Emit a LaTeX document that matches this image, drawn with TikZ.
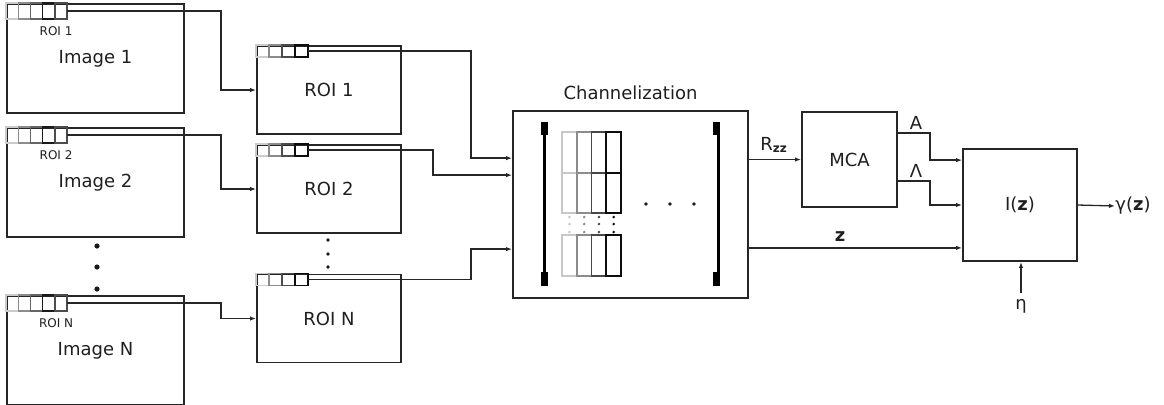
\documentclass[tikz,border=0pt]{standalone}
\usepackage{fontspec}
\setmainfont{DejaVu Sans}
\usetikzlibrary{calc,arrows.meta}
\begin{document}
\begin{tikzpicture}[x=0.5pt,y=-0.5pt,
  box/.style={draw=black!85, line width=0.9pt, inner sep=0pt,
    font=\fontsize{9}{11}\selectfont, text=black!88},
  imgbox/.style={box, minimum width=88.5pt, minimum height=54.5pt},
  roibox/.style={box, minimum width=72pt, minimum height=44pt},
  conn/.style={draw=black!85, line width=0.65pt, -{Latex[length=3pt,width=2.2pt]}},
  lbl/.style={inner sep=0pt, font=\fontsize{9}{11}\selectfont, text=black!88},
  smalllbl/.style={inner sep=0pt, font=\fontsize{6}{7}\selectfont, text=black!88},
  strip5/.pic={
    \foreach \i/\c in {0/20,1/45,2/60,3/90,4/70}
      \draw[line width=0.75pt, draw=black!\c] (\i*12.2,0) rectangle ++(12.2,16);
    \coordinate (-end) at (61,8);
  },
  strip4/.pic={
    \foreach \i/\c in {0/20,1/45,2/70,3/95}
      \draw[line width=0.75pt, draw=black!\c] (\i*13,0) rectangle ++(13,12);
    \coordinate (-end) at (52,6);
  }
]
\useasboundingbox (0,0) rectangle (1164,404);
\clip (0,0) rectangle (1164,404);

% source images
\node[imgbox] (img1) at (95.5,58.5) {Image 1};
\node[imgbox] (img2) at (95.5,182.5) {Image 2};
\node[imgbox] (imgN) at (95.5,350.5) {Image N};
\pic (img1s) at (img1.north west) {strip5};
\pic (img2s) at (img2.north west) {strip5};
\pic (imgNs) at (imgN.north west) {strip5};
\node[smalllbl] (r1l) at ($(img1.north west)+(50,28)$) {ROI 1};
\node[smalllbl] (r2l) at ($(img2.north west)+(50,28)$) {ROI 2};
\node[smalllbl] (rNl) at ($(imgN.north west)+(50,28)$) {ROI N};
\foreach \yy in {246,267,289} \fill[black!90] (97,\yy) circle (1.3pt);

% extracted regions
\node[roibox] (roi1) at (329,90) {ROI 1};
\node[roibox] (roi2) at (329,189) {ROI 2};
\node[roibox] (roiN) at (329,318.5) {ROI N};
\pic (roi1s) at (roi1.north west) {strip4};
\pic (roi2s) at (roi2.north west) {strip4};
\pic (roiNs) at (roiN.north west) {strip4};
\foreach \yy in {240,254,267} \fill[black!90] (328,\yy) circle (0.9pt);

\draw[conn] (img1s-end) -| ($(roi1.west)+(-35,0)$) -- (roi1.west);
\draw[conn] (img2s-end) -| ($(roi2.west)+(-35,0)$) -- (roi2.west);
\draw[conn] (imgNs-end) -| ($(roiN.west)+(-35,0)$) -- (roiN.west);

% channelization stage
\node[box, minimum width=117.5pt, minimum height=93.5pt] (chan) at (630.5,204.5) {};
\node[lbl] (ctitle) at ($(chan.north)+(0,-17)$) {Channelization};
\coordinate (c1) at ($(chan.north west)+(0,48)$);
\coordinate (c2) at ($(chan.north west)+(0,65)$);
\coordinate (c3) at ($(chan.north west)+(0,139)$);
\draw[conn] (roi1s-end) -| ($(c1)+(-41,0)$) -- (c1);
\draw[conn] (roi2s-end) -| ($(c2)+(-79,0)$) -- (c2);
\draw[conn] (roiNs-end) -| ($(c3)+(-41,0)$) -- (c3);

% matrix brackets
\fill[black] (541,122) rectangle (548,135);
\fill[black] (541,272) rectangle (548,286);
\fill[black] (542.5,122) rectangle (545.5,286);
\fill[black] (713,122) rectangle (720,135);
\fill[black] (713,272) rectangle (720,286);
\fill[black] (716.5,122) rectangle (719.5,286);

% channel columns
\foreach \k/\c in {0/22,1/45,2/72,3/95} {
  \foreach \tp/\h in {132/41,173/40,235/41}
    \draw[draw=black!\c, line width=0.85pt] (562+\k*14.75,\tp) rectangle ++(14.75,\h);
  \foreach \yy in {217,224,232}
    \fill[black!\c] (569.4+\k*14.75,\yy) circle (0.7pt);
}
\foreach \xx in {646,670,694} \fill[black!90] (\xx,204) circle (0.9pt);

% MCA and observer
\node[box, minimum width=47.5pt, minimum height=47.5pt] (mca) at (849.5,159.5) {MCA};
\node[box, minimum width=57pt, minimum height=56pt] (iz) at (1020,205) {I(\textbf{z})};

\draw[conn] (chan.east |- mca.west) -- (mca.west);
\node[lbl] (rzz) at (774,145) {R\textsubscript{\textbf{zz}}};

\coordinate (a1) at ($(mca.north east)+(0,22)$);
\coordinate (a2) at ($(mca.north east)+(0,70)$);
\coordinate (i1) at ($(iz.north west)+(0,12)$);
\draw[conn] (a1) -| ($(i1)+(-32,0)$) -- (i1);
\draw[conn] (a2) -| ($(iz.west)+(-32,0)$) -- (iz.west);
\node[lbl] (alab) at (916,123) {A};
\node[lbl] (llab) at (916,171) {Λ};

\coordinate (i3) at ($(iz.south west)+(0,-14)$);
\draw[conn] (chan.east |- i3) -- (i3);
\node[lbl] (zlab) at (840,237) {\textbf{z}};

\node[lbl, anchor=west] (gam) at (1115,206) {γ(\textbf{z})};
\draw[conn] (iz.east) -- (gam.west);

\node[lbl] (eta) at (1021,306) {η};
\draw[conn] ($(eta.north)+(0,-6)$) -- (eta.north |- iz.south);
\end{tikzpicture}
\end{document}
